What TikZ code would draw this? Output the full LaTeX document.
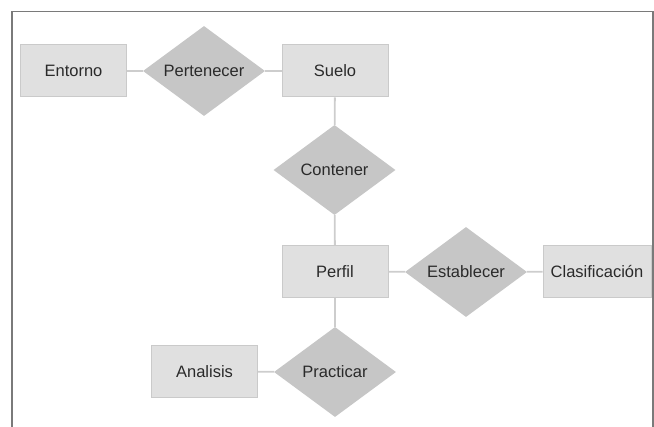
\documentclass[tikz,border=0pt]{standalone}
\usepackage{fontspec}
\setmainfont{Liberation Sans}
\usetikzlibrary{shapes.geometric}
\definecolor{entfill}{HTML}{E0E0E0}
\definecolor{entline}{HTML}{CACACA}
\definecolor{relfill}{HTML}{C6C6C6}
\definecolor{linkgray}{HTML}{CDCDCD}
\definecolor{txtgray}{HTML}{2A2A2A}
\definecolor{framegray}{HTML}{7A7A7A}

\begin{document}
\begin{tikzpicture}[x=1pt,y=-1pt,every node/.style={font=\fontsize{16.5}{19}\selectfont,text=txtgray},
  entity/.style={draw=entline,line width=1pt,fill=entfill,minimum width=106pt,minimum height=52pt,inner sep=0pt},
  relation/.style={diamond,fill=relfill,minimum width=122pt,minimum height=90pt,inner sep=0pt},
  link/.style={draw=linkgray,line width=1.8pt}]
\useasboundingbox (0,0) rectangle (654,427);
% frame, open at the bottom
\draw[framegray,line width=1.3pt] (12,427)--(12,11.5)--(653,11.5)--(653,427);
\node[entity] (entorno) at (73.5,71.0) {Entorno};
\node[relation,label=center:Pertenecer] (pertenecer) at (204.0,71.0) {};
\node[entity] (suelo) at (335.0,71.0) {Suelo};
\node[relation,label=center:Contener] (contener) at (334.5,170.0) {};
\node[entity] (perfil) at (335.0,271.5) {Perfil};
\node[relation,label=center:Establecer] (establecer) at (466.0,272.0) {};
\node[entity,minimum width=108pt] (clasificacion) at (597.0,271.5) {Clasificación};
\node[relation,label=center:Practicar] (practicar) at (335.0,372.0) {};
\node[entity] (analisis) at (204.5,371.5) {Analisis};
% connectors
\draw[link] (entorno)--(pertenecer);
\draw[link] (pertenecer)--(suelo);
\draw[link] (suelo)--(contener);
\draw[link] (contener)--(perfil);
\draw[link] (perfil)--(establecer);
\draw[link] (establecer)--(clasificacion);
\draw[link] (perfil)--(practicar);
\draw[link] (practicar)--(analisis);
\end{tikzpicture}
\end{document}
